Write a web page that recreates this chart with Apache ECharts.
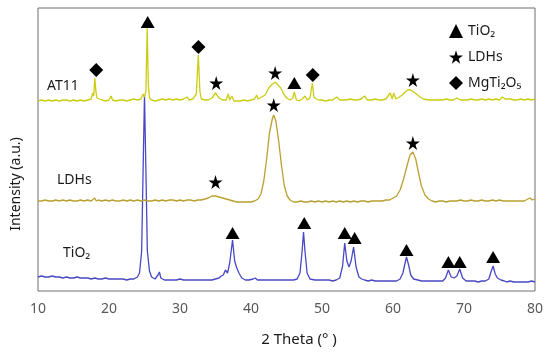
<!DOCTYPE html>
<html>
<head>
<meta charset="utf-8">
<script src="https://cdn.jsdelivr.net/npm/echarts@6/dist/echarts.min.js"></script>
<style>html,body{margin:0;padding:0;background:#fff;}#c{width:550px;height:356px;}</style>
</head>
<body>
<div id="c"></div>
<script>
// 2θ (degrees) vs intensity (a.u., stacked with offsets as in the figure)
const xTicks = [10, 20, 30, 40, 50, 60, 70, 80];

const at11 = [
[10,190],[10.5,191],[11,190],[11.5,191],[12,190],[12.5,191],[13,190],[13.5,191],[14,191],[14.5,190],
[15,191],[15.5,190],[16,191],[16.5,190],[17,191],[17.5,192],[17.7,198],[17.85,195],[18.0,213],[18.15,200],
[18.3,193],[19,191],[19.5,190],[20,191],[20.3,195],[20.5,191],[21,190],[21.5,191],[22,191],[22.5,190],
[23,191],[23.5,192],[24,191],[24.5,192],[24.8,197],[25.0,194],[25.2,200],[25.38,263],[25.55,205],[25.7,193],
[26,191],[26.5,190],[27,191],[27.5,192],[28,191],[28.5,192],[29,191],[29.5,192],[30,191],[30.5,192],
[31,194],[31.3,191],[31.8,192],[32.3,197],[32.58,236],[32.8,200],[33,192],[33.5,191],[34,191],[34.5,193],
[35,198],[35.5,193],[36,191],[36.5,191],[36.8,197],[37,191],[37.3,195],[37.6,190],[38,190],[38.5,190],
[39,191],[39.5,190],[40,191],[40.5,192],[40.8,196],[41,192],[41.5,194],[42,196],[42.5,203],[43,207],
[43.4,209],[43.8,206],[44.2,203],[44.6,197],[45,193],[45.5,191],[45.9,193],[46.1,199],[46.4,191],[46.8,190],
[47.2,192],[47.6,195],[47.9,191],[48.3,193],[48.65,208],[48.85,194],[49.2,192],[49.6,191],[50,191],[50.5,190],
[51,191],[51.5,191],[52.1,194],[52.5,191],[53,191],[53.5,191],[54,192],[54.5,191],[55,191],[55.5,192],
[56,195],[56.4,191],[57,191],[57.5,192],[58,191],[58.5,191],[59,192],[59.6,198],[59.9,192],[60.1,198],
[60.4,192],[60.9,194],[61.3,196],[61.7,199],[62.1,201],[62.5,201],[62.9,199],[63.3,197],[63.8,194],[64.3,192],
[65,191],[65.5,191],[66,191],[66.5,191],[67,191],[67.5,192],[68,191],[68.5,191],[69,193],[69.5,191],
[70,191],[70.5,191],[71,192],[71.5,191],[72,191],[72.5,192],[73,191],[73.5,192],[74,191],[74.5,192],
[75,191],[75.4,194],[75.8,192],[76,191],[76.5,192],[77,191],[77.5,191],[78,192],[78.5,191],[79,192],
[79.5,191],[80,192]
];

const ldhs = [
[10,90],[10.5,90],[11,91],[11.5,90],[12,90],[12.5,91],[13,90],[13.5,91],[14,90],[14.5,91],
[15,90],[15.5,90],[16,91],[16.5,90],[17,91],[17.5,90],[18,93],[18.2,90],[18.5,91],[19,90],
[19.5,91],[20,90],[20.5,91],[21,90],[21.5,90],[22,91],[22.5,90],[23,91],[23.5,90],[24,91],
[24.5,90],[25,91],[25.5,90],[26,90],[26.5,91],[27,90],[27.5,91],[28,90],[28.5,91],[29,91],
[29.5,90],[30,91],[30.5,90],[31,91],[31.5,91],[32,90],[32.5,91],[33,91],[33.5,92],[34,93],
[34.5,95],[35,95],[35.5,94],[36,93],[36.5,92],[37,91],[37.5,90],[38,89],[38.5,89],[39,89],
[39.5,89],[40,89],[40.5,90],[41,92],[41.4,97],[41.8,110],[42.2,132],[42.6,158],[43,172],[43.2,176],
[43.5,170],[43.9,150],[44.3,125],[44.7,105],[45.1,95],[45.5,91],[46,89],[46.5,89],[47,90],[47.5,89],
[48,89],[48.5,90],[49,89],[49.5,90],[50,89],[50.5,90],[51,89],[51.5,90],[52,89],[52.5,90],
[53,89],[53.5,90],[54,89],[54.5,90],[55,89],[55.5,90],[56,90],[56.5,89],[57,90],[57.5,90],
[58,90],[58.5,90],[59,91],[59.5,91],[60,93],[60.5,95],[61,101],[61.5,112],[62,126],[62.4,136],
[62.8,139],[63.2,132],[63.6,118],[64,105],[64.5,96],[65,92],[65.5,90],[66,89],[66.5,90],[67,90],
[67.5,89],[68,90],[68.5,90],[69,90],[69.5,91],[70,90],[70.5,90],[71,91],[71.5,90],[72,90],
[72.5,91],[73,90],[73.5,90],[74,91],[74.5,90],[75,91],[75.5,90],[76,90],[76.5,90],[77,90],
[77.5,90],[78,90],[78.5,90],[79,92],[79.3,93],[79.6,91],[80,92]
];

const tio2 = [
[10,14],[10.5,15],[11,14],[11.5,14],[12,15],[12.5,14],[13,14],[13.5,13],[14,14],[14.5,13],
[15,13],[15.5,14],[16,13],[16.5,13],[17,13],[17.5,12],[18,13],[18.5,12],[19,12],[19.5,13],
[20,12],[20.5,12],[21,12],[21.5,12],[22,12],[22.5,11],[23,12],[23.5,12],[24,14],[24.3,18],
[24.6,40],[24.8,120],[25.0,196],[25.2,120],[25.4,40],[25.7,20],[26,14],[26.5,12],[26.9,16],[27.1,19],
[27.3,13],[27.8,11],[28.5,11],[29,11],[29.5,11],[30,12],[30.5,11],[31,11],[31.5,11],[32,11],
[32.5,11],[33,11],[33.5,11],[34,11],[34.5,11],[35,12],[35.5,13],[35.8,15],[36.1,16],[36.4,21],
[36.7,18],[37,28],[37.4,51],[37.7,30],[38,23],[38.3,18],[38.7,13],[39.2,11],[39.7,11],[40.3,12],
[40.6,13],[40.9,11],[41.5,11],[42,11],[42.5,11],[43,11],[43.5,11],[44,11],[44.5,11],[45,11],
[45.5,11],[46,11],[46.5,12],[46.9,18],[47.2,40],[47.4,59],[47.6,40],[47.9,18],[48.3,12],[49,11],
[49.5,11],[50,11],[50.5,11],[51,11],[51.5,10],[52,11],[52.5,13],[52.9,25],[53.2,48],[53.5,30],
[53.8,24],[54.1,30],[54.45,44],[54.8,24],[55.2,14],[55.6,12],[56,11],[56.5,10],[57,11],[57.5,10],
[58,10],[58.5,10],[59,10],[59.5,10],[60,10],[60.5,10],[61,12],[61.4,18],[61.7,28],[61.9,34],
[62.2,26],[62.5,16],[62.9,12],[63.5,11],[64,10],[64.5,10],[65,10],[65.5,10],[66,10],[66.5,10],
[67,10],[67.4,13],[67.8,21],[68.2,14],[68.6,13],[69,15],[69.4,22],[69.8,13],[70.3,10],[71,10],
[71.5,10],[72,9],[72.5,10],[73,10],[73.5,12],[73.8,19],[74.1,25],[74.4,17],[74.7,13],[74.9,14],
[75.2,11],[75.7,10],[76,9],[76.5,10],[77,9],[77.5,9],[78,9],[78.5,9],[79,9],[79.5,10],[80,9]
];

// Phase markers [2θ, height]
const tio2Marks = [[25.45,269],[46.1,208],[37.4,58],[47.5,68],[53.2,58],[54.6,53],[61.9,41],[67.8,29],[69.4,29],[74.1,34]];
const ldhMarks = [[35.1,208],[43.4,218],[62.8,211],[35.0,109],[43.2,186],[62.8,148]];
const mgMarks = [[18.2,221],[32.6,244],[48.7,216]];

const traceNames = ['AT11', 'LDHs', 'TiO₂'];
const phaseNames = ['TiO₂', 'LDHs', 'MgTi₂O₅'];

const starPath = 'path://M50,0 L61,35 L98,35 L68,57 L79,91 L50,70 L21,91 L32,57 L2,35 L39,35 Z';
const FONT = 'Noto Sans';

const chart = echarts.init(document.getElementById('c'), null, {renderer: 'canvas'});
chart.setOption({
  animation: false,
  backgroundColor: '#fff',
  textStyle: {fontFamily: FONT},
  grid: {left: 38, right: 15, top: 8, bottom: 65, show: true, borderColor: '#6e6e6e', borderWidth: 1, backgroundColor: 'transparent'},
  xAxis: {
    type: 'value', min: xTicks[0], max: xTicks[xTicks.length - 1], interval: 10,
    axisLine: {show: false}, axisTick: {show: false}, splitLine: {show: false},
    axisLabel: {color: '#595959', fontSize: 14, margin: 11, fontFamily: FONT}
  },
  yAxis: {
    type: 'value', min: 0, max: 283,
    axisLine: {show: false}, axisTick: {show: false}, splitLine: {show: false}, axisLabel: {show: false}
  },
  legend: {
    orient: 'vertical', left: 444, top: 19, itemGap: 12, itemWidth: 14, itemHeight: 14,
    data: phaseNames.map(n => ({name: n})),
    textStyle: {fontSize: 14, color: '#1a1a1a', fontFamily: FONT}
  },
  series: [
    {name: traceNames[2] + ' trace', type: 'line', data: tio2, showSymbol: false, z: 2,
     lineStyle: {color: '#4848c4', width: 1.3}},
    {name: traceNames[1] + ' trace', type: 'line', data: ldhs, showSymbol: false, z: 3,
     lineStyle: {color: '#b9a030', width: 1.3}},
    {name: traceNames[0] + ' trace', type: 'line', data: at11, showSymbol: false, z: 4,
     lineStyle: {color: '#cccc14', width: 1.3}},
    {name: phaseNames[0], type: 'scatter', data: tio2Marks, symbol: 'triangle', symbolSize: [14, 12],
     itemStyle: {color: '#000', opacity: 1}, z: 5},
    {name: phaseNames[1], type: 'scatter', data: ldhMarks, symbol: starPath, symbolSize: 14,
     itemStyle: {color: '#000', opacity: 1}, z: 5},
    {name: phaseNames[2], type: 'scatter', data: mgMarks, symbol: 'diamond', symbolSize: 14,
     itemStyle: {color: '#000', opacity: 1}, z: 5}
  ],
  graphic: [
    {type: 'text', left: 47, top: 79, style: {text: traceNames[0], fontSize: 14, fill: '#1a1a1a', fontFamily: FONT}},
    {type: 'text', left: 57, top: 173, style: {text: traceNames[1], fontSize: 14, fill: '#1a1a1a', fontFamily: FONT}},
    {type: 'text', left: 63, top: 246, style: {text: traceNames[2], fontSize: 14, fill: '#1a1a1a', fontFamily: FONT}},
    {type: 'text', x: 299, y: 340, style: {text: '2 Theta (° )', fontSize: 15, fill: '#1a1a1a', fontFamily: FONT, textAlign: 'center', textVerticalAlign: 'middle'}},
    {type: 'text', x: 16, y: 184, rotation: Math.PI / 2, style: {text: 'Intensity (a.u.)', fontSize: 14, fill: '#1a1a1a', fontFamily: FONT, textAlign: 'center', textVerticalAlign: 'middle'}}
  ]
});
</script>
</body>
</html>
